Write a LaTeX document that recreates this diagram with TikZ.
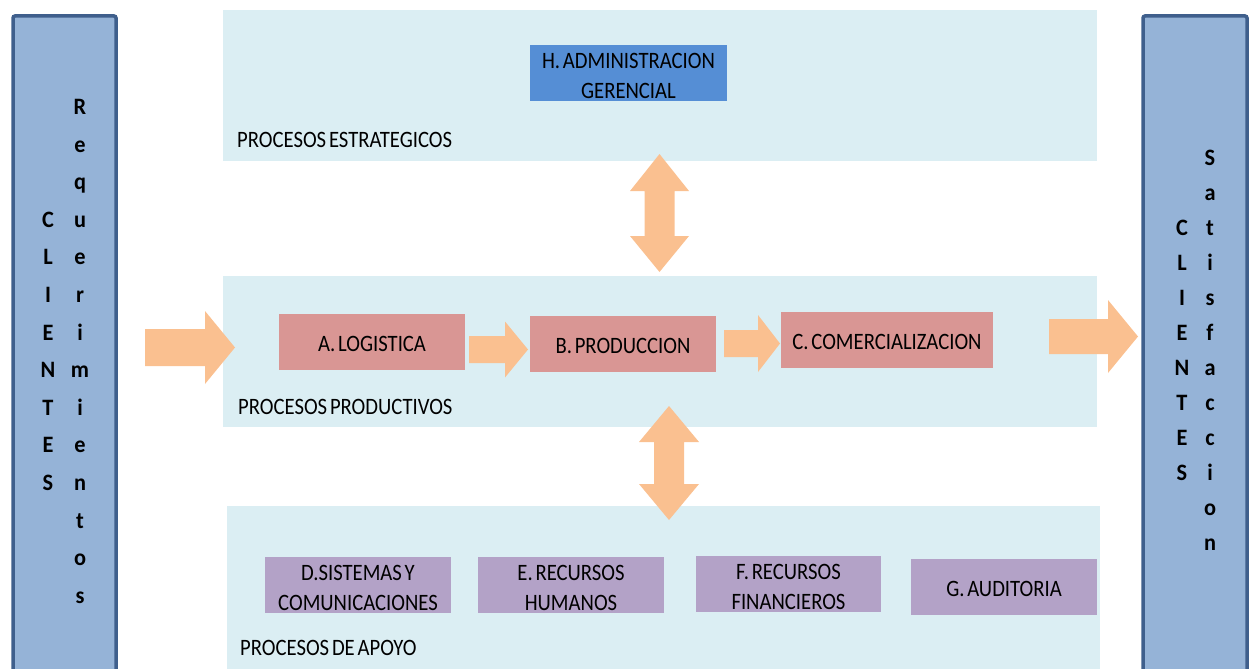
\documentclass[tikz,border=0pt]{standalone}
\usepackage{fontspec}
\setmainfont{Carlito}[FakeStretch=0.88,WordSpace=0.6]
\newfontfamily\colfont{Carlito}[FakeStretch=0.95]
\definecolor{band}{HTML}{DBEEF3}
\definecolor{colfill}{HTML}{95B3D7}
\definecolor{coldraw}{HTML}{3F5F8C}
\definecolor{hblue}{HTML}{558ED5}
\definecolor{prodred}{HTML}{D99694}
\definecolor{apoyo}{HTML}{B3A2C7}
\definecolor{arrowc}{HTML}{FAC090}
\begin{document}
\begin{tikzpicture}[x=1pt,y=-1pt,
  txt/.style={font=\fontsize{23.5}{30}\selectfont},
  bandbox/.style={fill=band, draw=none},
  column/.style={fill=colfill, draw=coldraw, line width=3.5pt, rounded corners=2pt},
  procbox/.style={draw=none, inner sep=0pt, minimum height=56pt},
  proctext/.style={txt, align=center, inner sep=0pt},
  colletter/.style={font=\colfont\bfseries\fontsize{23.5}{27}\selectfont, anchor=base, inner sep=0pt},
  label/.style={txt, anchor=base west, inner sep=0pt},
  fat/.style={fill=arrowc, draw=none}]
\useasboundingbox (0,0) rectangle (1251,669);
\begin{scope}
\clip (0,0) rectangle (1251,669);
% side columns
\draw[column] (13,16) rectangle (116,700);
\draw[column] (1143,16) rectangle (1247,700);
% bands
\fill[bandbox] (223,10) rectangle (1097,161);
\fill[bandbox] (223,276) rectangle (1097,427);
\fill[bandbox] (227,506) rectangle (1100,680);
\end{scope}

% left column letters
\foreach \c [count=\i from 0] in {R,e,q,u,e,r,i,m,i,e,n,t,o,s}
  \node[colletter] (lr\i) at (80,114.5+37.6*\i) {\c};
\foreach \c [count=\i from 3] in {C,L,I,E,N,T,E,S}
  \node[colletter] (lc\i) at (48,114.5+37.6*\i) {\c};
% right column letters
\foreach \c [count=\i from 0] in {S,a,t,i,s,f,a,c,c,i,o,n}
  \node[colletter] (rs\i) at (1210,165.5+35*\i) {\c};
\foreach \c [count=\i from 2] in {C,L,I,E,N,T,E,S}
  \node[colletter] (rc\i) at (1182,165.5+35*\i) {\c};

% process boxes
\node[procbox, fill=hblue, minimum width=197pt] (H) at (628.5,73) {};
\node[procbox, fill=prodred, minimum width=186pt] (A) at (372,342) {};
\node[procbox, fill=prodred, minimum width=186pt] (B) at (623,344) {};
\node[procbox, fill=prodred, minimum width=212pt] (C) at (887,340) {};
\node[procbox, fill=apoyo, minimum width=186pt] (D) at (358,585) {};
\node[procbox, fill=apoyo, minimum width=186pt] (E) at (571,585) {};
\node[procbox, fill=apoyo, minimum width=185pt] (F) at (788.5,584) {};
\node[procbox, fill=apoyo, minimum width=186pt] (G) at (1004,587) {};
% box texts
\node[proctext] (Ht) at ([yshift=-2.5pt]H.center) {H. ADMINISTRACION\\GERENCIAL};
\node[proctext] (At) at ([yshift=-2pt]A.center) {A. LOGISTICA};
\node[proctext] (Bt) at ([yshift=-1.5pt]B.center) {B. PRODUCCION};
\node[proctext] (Ct) at ([yshift=-1.5pt]C.center) {C. COMERCIALIZACION};
\node[proctext] (Dt) at ([yshift=-3pt]D.center) {D.SISTEMAS Y\\COMUNICACIONES};
\node[proctext] (Et) at ([yshift=-3pt]E.center) {E. RECURSOS\\HUMANOS};
\node[proctext] (Ft) at ([yshift=-3pt]F.center) {F. RECURSOS\\FINANCIEROS};
\node[proctext] (Gt) at ([yshift=-2pt]G.center) {G. AUDITORIA};

% band labels
\node[label] (le) at (237,147.5) {PROCESOS ESTRATEGICOS};
\node[label] (lp) at (238,414.5) {PROCESOS PRODUCTIVOS};
\node[label] (la) at (240,655.5) {PROCESOS DE APOYO};

% block arrows (right pointing)
\fill[fat] (145,329) -- (205,329) -- (205,311) -- (235,347.5) -- (205,384) -- (205,366) -- (145,366) -- cycle;
\fill[fat] (469,336) -- (505,336) -- (505,321.5) -- (528,349.5) -- (505,377.5) -- (505,363) -- (469,363) -- cycle;
\fill[fat] (724,330) -- (758,330) -- (758,315) -- (780,343.5) -- (758,372) -- (758,357) -- (724,357) -- cycle;
\fill[fat] (1049,319) -- (1108,319) -- (1108,300) -- (1138,336.5) -- (1108,373) -- (1108,354) -- (1049,354) -- cycle;
% vertical double arrows
\fill[fat] (659.5,154) -- (689,191) -- (674.5,191) -- (674.5,236) -- (689,236) -- (659.5,272)
  -- (630,236) -- (644.5,236) -- (644.5,191) -- (630,191) -- cycle;
\fill[fat] (669,406) -- (699,442) -- (684,442) -- (684,484) -- (699,484) -- (669,520)
  -- (639,484) -- (654,484) -- (654,442) -- (639,442) -- cycle;
\end{tikzpicture}
\end{document}
